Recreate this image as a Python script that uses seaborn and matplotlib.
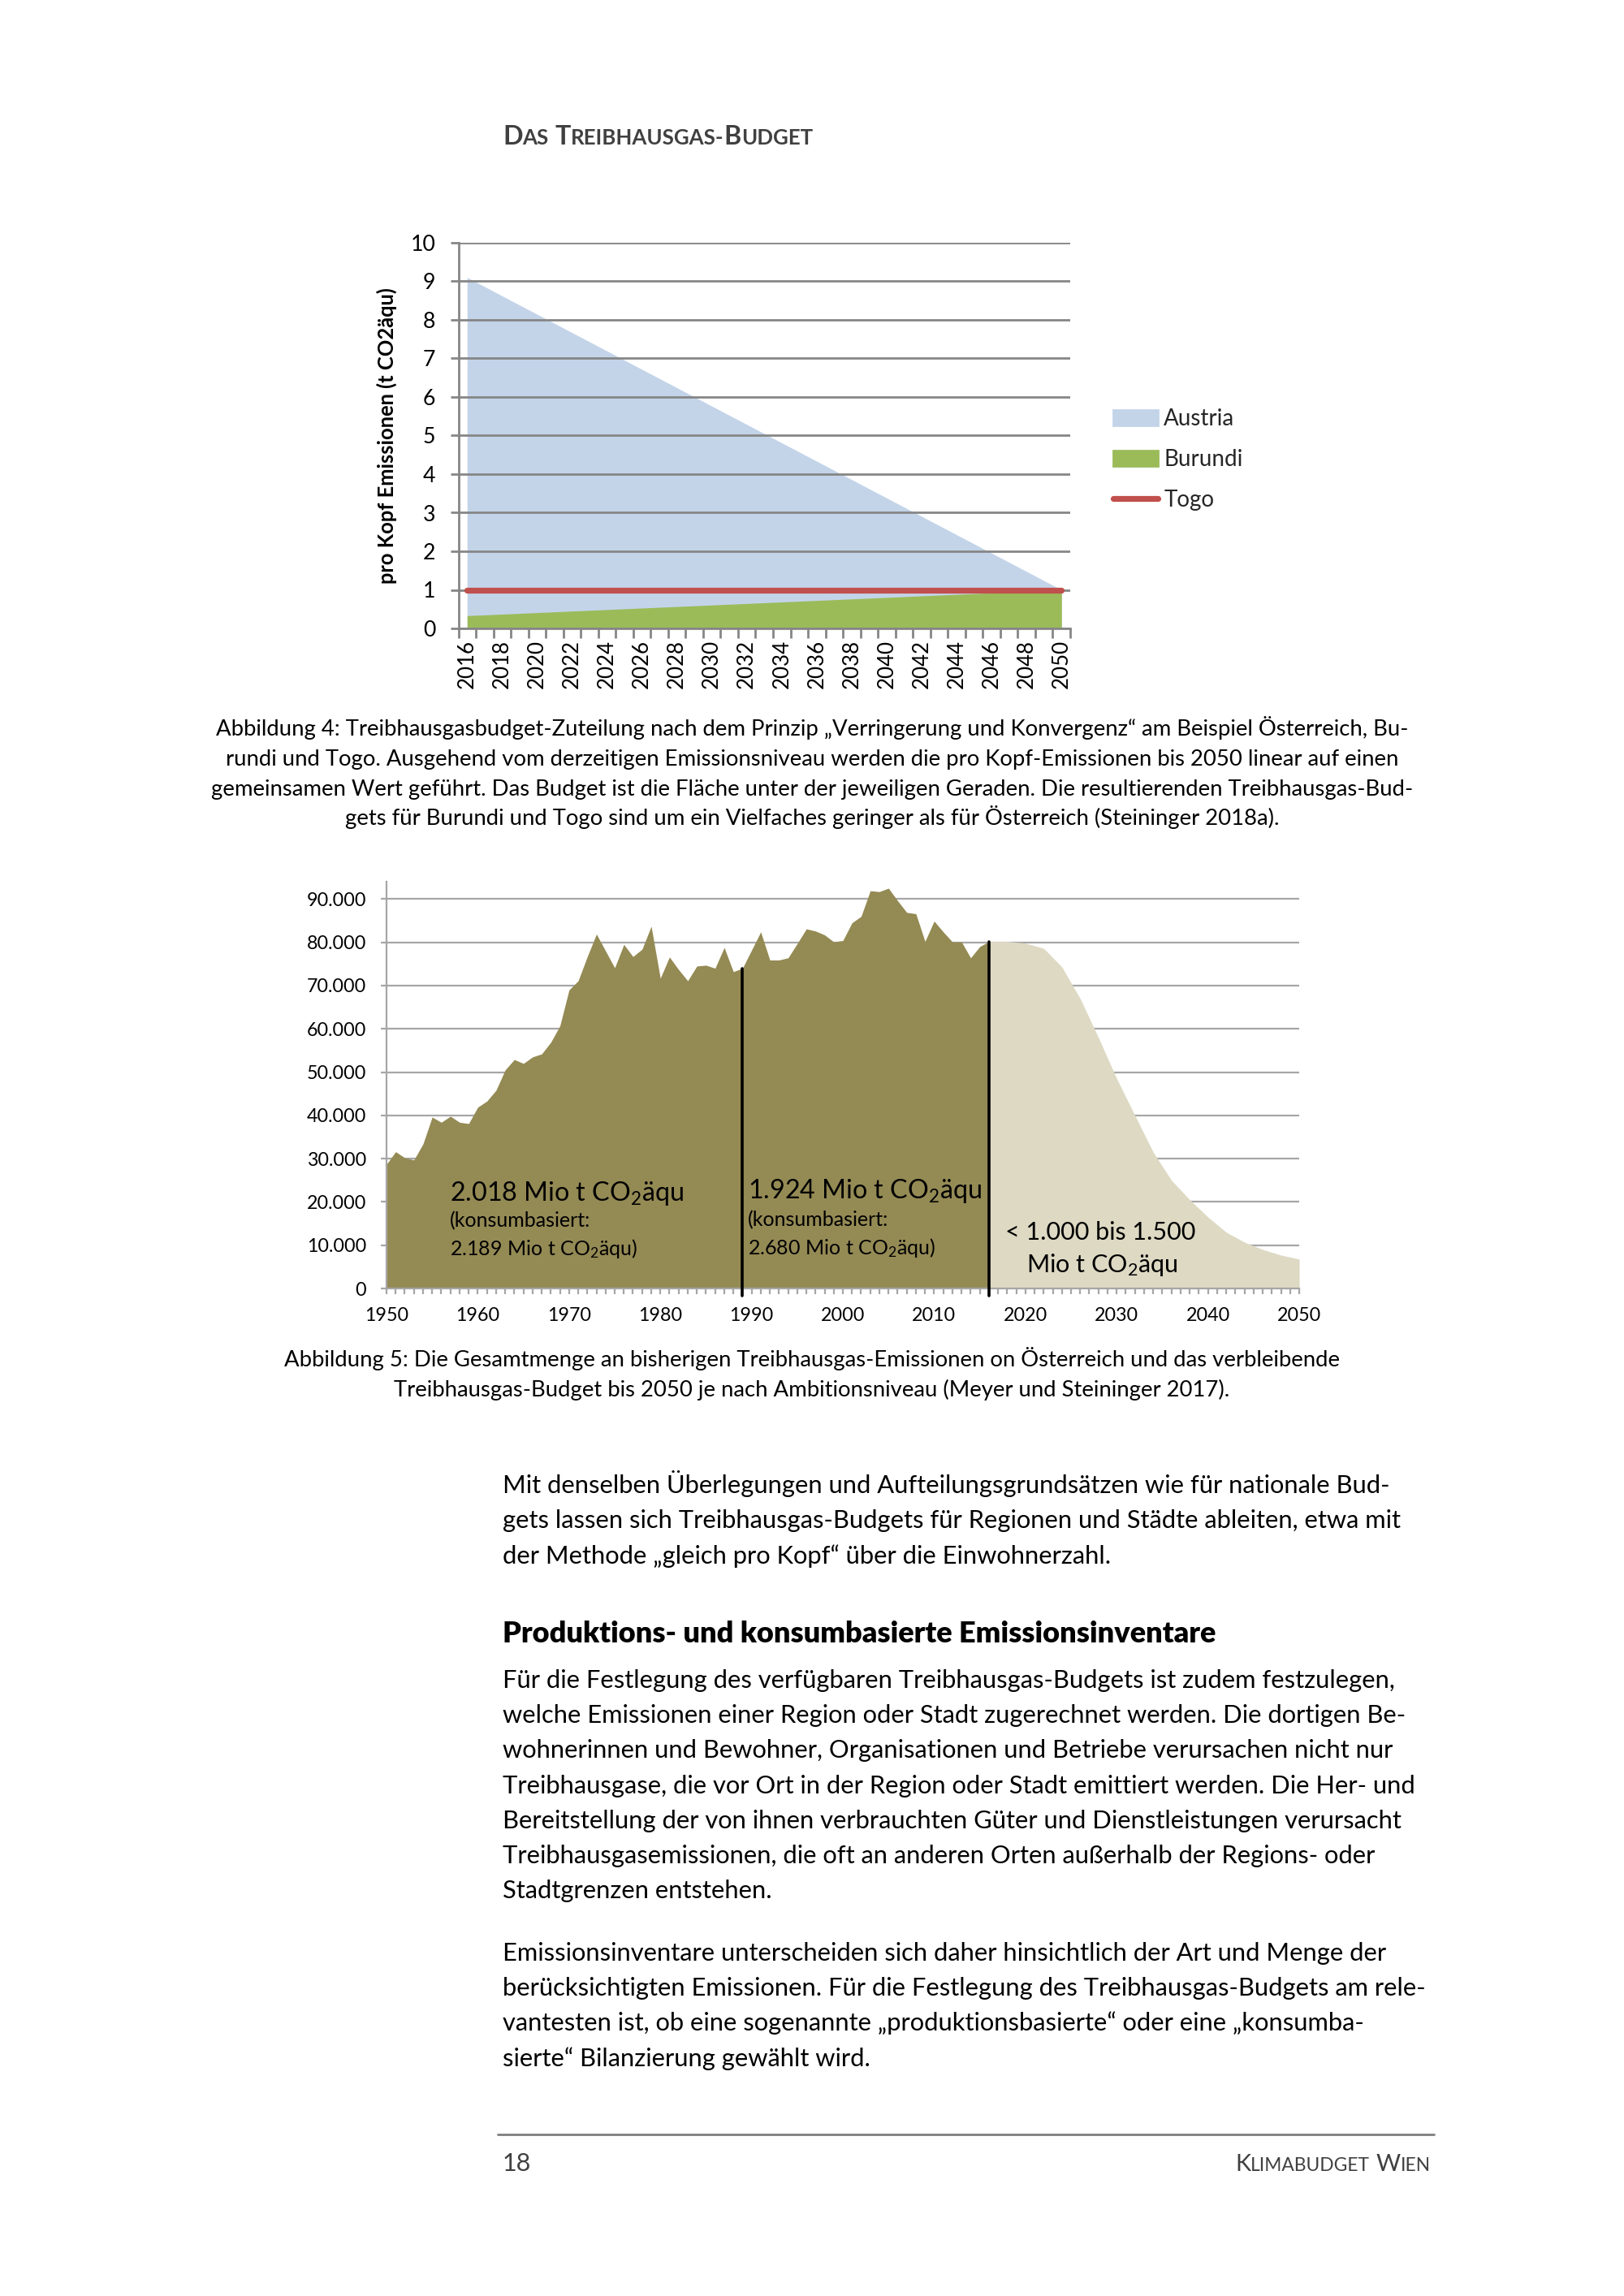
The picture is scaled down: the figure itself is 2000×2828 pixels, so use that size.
import numpy as np
import matplotlib
matplotlib.use("Agg")
import matplotlib.pyplot as plt
import seaborn as sns
from matplotlib.patches import Patch
from matplotlib.lines import Line2D
from matplotlib.ticker import FuncFormatter

# Abbildung 4: per capita emissions (t CO2e), linear paths 2016 -> 2050
path_years = [2016, 2050]
austria = [9.1, 1.0]
burundi = [0.33, 1.0]
togo = [1.0, 1.0]
path_ticks = list(range(2016, 2051, 2))

# Abbildung 5: Austrian emissions (kt CO2e), history and remaining budget path
hist_years = list(range(1950, 2017))
hist_values = [28700, 31600, 30200, 29700, 33400, 39600, 38400, 39800, 38400, 38100,
               41900, 43300, 45800, 50500, 52900, 52000, 53500, 54200, 56900, 60700,
               69000, 71100, 76700, 81900, 78000, 74100, 79500, 76700, 78400, 83700,
               71700, 76600, 73700, 71100, 74500, 74700, 74000, 78800, 73200, 74000,
               78200, 82400, 75900, 75900, 76400, 79700, 83100, 82600, 81700, 80100,
               80400, 84500, 86000, 91900, 91700, 92500, 89600, 86900, 86600, 80200,
               84900, 82400, 80100, 80100, 76400, 79000, 80200]
future_years = list(range(2016, 2051, 2))
future_values = [80200, 80200, 79800, 78600, 74300, 67000, 58000, 48500, 40000, 31500,
                 25000, 20500, 16500, 13000, 10700, 9000, 7700, 6800]
split_years = [1989, 2016]

budget_labels = [
    (1956.9, 22000, "2.018 Mio t CO$_2$äqu", "big"),
    (1956.9, 15600, "(konsumbasiert:", "small"),
    (1956.9, 9100, "2.189 Mio t CO$_2$äqu)", "small"),
    (1989.6, 22600, "1.924 Mio t CO$_2$äqu", "big"),
    (1989.6, 15900, "(konsumbasiert:", "small"),
    (1989.6, 9400, "2.680 Mio t CO$_2$äqu)", "small"),
    (2017.8, 12900, "< 1.000 bis 1.500", "mid"),
    (2020.1, 5400, "Mio t CO$_2$äqu", "mid"),
]

caption4 = [
    "Abbildung 4: Treibhausgasbudget-Zuteilung nach dem Prinzip „Verringerung und Konvergenz“ am Beispiel Österreich, Bu-",
    "rundi und Togo. Ausgehend vom derzeitigen Emissionsniveau werden die pro Kopf-Emissionen bis 2050 linear auf einen",
    "gemeinsamen Wert geführt. Das Budget ist die Fläche unter der jeweiligen Geraden. Die resultierenden Treibhausgas-Bud-",
    "gets für Burundi und Togo sind um ein Vielfaches geringer als für Österreich (Steininger 2018a).",
]
caption5 = [
    "Abbildung 5: Die Gesamtmenge an bisherigen Treibhausgas-Emissionen on Österreich und das verbleibende",
    "Treibhausgas-Budget bis 2050 je nach Ambitionsniveau (Meyer und Steininger 2017).",
]
para1 = [
    "Mit denselben Überlegungen und Aufteilungsgrundsätzen wie für nationale Bud-",
    "gets lassen sich Treibhausgas-Budgets für Regionen und Städte ableiten, etwa mit",
    "der Methode „gleich pro Kopf“ über die Einwohnerzahl.",
]
heading = "Produktions- und konsumbasierte Emissionsinventare"
para2 = [
    "Für die Festlegung des verfügbaren Treibhausgas-Budgets ist zudem festzulegen,",
    "welche Emissionen einer Region oder Stadt zugerechnet werden. Die dortigen Be-",
    "wohnerinnen und Bewohner, Organisationen und Betriebe verursachen nicht nur",
    "Treibhausgase, die vor Ort in der Region oder Stadt emittiert werden. Die Her- und",
    "Bereitstellung der von ihnen verbrauchten Güter und Dienstleistungen verursacht",
    "Treibhausgasemissionen, die oft an anderen Orten außerhalb der Regions- oder",
    "Stadtgrenzen entstehen.",
]
para3 = [
    "Emissionsinventare unterscheiden sich daher hinsichtlich der Art und Menge der",
    "berücksichtigten Emissionen. Für die Festlegung des Treibhausgas-Budgets am rele-",
    "vantesten ist, ob eine sogenannte „produktionsbasierte“ oder eine „konsumba-",
    "sierte“ Bilanzierung gewählt wird.",
]

c_austria = "#C3D4E9"
c_burundi = "#9BBB59"
c_togo = "#C0504D"
c_hist = "#948A54"
c_future = "#DDD9C3"
grey = "#868686"
dark = "#404040"

sns.set_theme(style="white")
plt.rcParams["font.family"] = ["Lato", "DejaVu Sans"]
plt.rcParams["mathtext.default"] = "regular"

W, H = 2000, 2828
fig = plt.figure(figsize=(10, 14.14), dpi=200)
renderer = fig.canvas.get_renderer()


def fx(x):
    return x / W


def fy(y):
    return 1 - y / H


def text_width(s, size, weight="normal"):
    t = fig.text(0, 0, s, fontsize=size, weight=weight)
    w = t.get_window_extent(renderer).width
    t.remove()
    return w


def small_caps(x, y, s, big, small, color, weight="normal", align="left"):
    # fake small caps: capitals at full size, the rest upper-cased and smaller
    words = []
    for word in s.split(" "):
        pieces = []
        for ch in word:
            size = big if ch.isupper() else small
            if pieces and pieces[-1][1] == size:
                pieces[-1][0] += ch.upper()
            else:
                pieces.append([ch.upper(), size])
        words.append(pieces)
    space = text_width("A A", big, weight) - text_width("AA", big, weight)
    total = sum(text_width(p, sz, weight) for w in words for p, sz in w) + space * (len(words) - 1)
    cur = x - total if align == "right" else x
    for w in words:
        for p, sz in w:
            fig.text(fx(cur), fy(y), p, fontsize=sz, weight=weight, color=color, va="baseline")
            cur += text_width(p, sz, weight)
        cur += space


def block(x, y0, lines, size, step, ha="left", **kw):
    for i, line in enumerate(lines):
        fig.text(fx(x), fy(y0 + i * step), line, fontsize=size, ha=ha, va="baseline", **kw)


# page header
small_caps(619, 178, "Das Treibhausgas-Budget", 11.6, 9.3, dark, weight="bold")

# ---- Abbildung 4 ----
ax1 = fig.add_axes([fx(564.5), fy(774), (1318 - 564.5) / W, (774 - 299) / H])
ax1.fill_between(path_years, austria, color=c_austria, lw=0, zorder=1)
ax1.fill_between(path_years, burundi, color=c_burundi, lw=0, zorder=1.5)
sns.lineplot(x=path_years, y=togo, color=c_togo, lw=2.6, ax=ax1, zorder=3,
             solid_capstyle="round")
ax1.set_xlim(2015.5, 2050.5)
ax1.set_ylim(0, 10)
ax1.set_yticks(range(0, 11))
ax1.set_xticks(path_ticks)
ax1.set_xticklabels([str(y) for y in path_ticks], rotation=90)
ax1.set_xticks(np.arange(2015.5, 2051, 1), minor=True)
ax1.yaxis.grid(True, color=grey, lw=1.0)
ax1.set_axisbelow(False)
ax1.tick_params(axis="x", which="major", length=0, pad=5, labelsize=9.3, colors="black")
ax1.tick_params(axis="x", which="minor", length=4.3, width=1.0, color=grey, bottom=True)
ax1.tick_params(axis="y", length=3.6, width=1.0, color=grey, pad=6.5, labelsize=9.6,
                labelcolor="black", left=True)
for side in ["top", "right"]:
    ax1.spines[side].set_visible(False)
for side in ["left", "bottom"]:
    ax1.spines[side].set_color(grey)
    ax1.spines[side].set_linewidth(1.0)
ax1.set_ylabel("pro Kopf Emissionen (t CO2äqu)", fontsize=9.2, weight="bold", color="black")
ax1.yaxis.set_label_coords(-0.1, 0.5)
ax1.set_xlabel("")

handles = [Patch(color=c_austria, label="Austria"),
           Patch(color=c_burundi, label="Burundi"),
           Line2D([], [], color=c_togo, lw=2.6, solid_capstyle="round", label="Togo")]
fig.legend(handles=handles, loc="center left", bbox_to_anchor=(fx(1357), fy(566)),
           frameon=False, fontsize=10, borderpad=0, handlelength=2.0,
           handletextpad=0.25, labelspacing=0.85)

block(1000, 906, caption4, 9.9, 36.8, ha="center", color="black")

# ---- Abbildung 5 ----
ax2 = fig.add_axes([fx(476), fy(1587), (1600 - 476) / W, (1587 - 1086) / H])
ax2.fill_between(hist_years, hist_values, color=c_hist, lw=0, zorder=1)
ax2.fill_between(future_years, future_values, color=c_future, lw=0, zorder=1)
for yr in split_years:
    top = hist_values[hist_years.index(yr)]
    ax2.plot([yr, yr], [-1600, top], color="black", lw=1.3, zorder=3, clip_on=False)
ax2.set_xlim(1950, 2050)
ax2.set_ylim(0, 94000)
ax2.set_xticks(range(1950, 2051, 10))
ax2.set_xticks(range(1950, 2051), minor=True)
ax2.set_yticks(range(0, 90001, 10000))
ax2.yaxis.set_major_formatter(FuncFormatter(lambda v, p: f"{int(v):,}".replace(",", ".")))
ax2.yaxis.grid(True, color="#A6A6A6", lw=0.8)
ax2.set_axisbelow(True)
ax2.tick_params(axis="x", which="both", length=2.5, width=0.8, color="#A6A6A6", bottom=True,
                pad=5.8, labelsize=8.4, labelcolor="black")
ax2.tick_params(axis="y", length=2.7, width=0.8, color="#A6A6A6", left=True, pad=6.3,
                labelsize=8.4, labelcolor="black")
for side in ["top", "right"]:
    ax2.spines[side].set_visible(False)
for side in ["left", "bottom"]:
    ax2.spines[side].set_color("#A6A6A6")
    ax2.spines[side].set_linewidth(0.8)

sizes = {"big": 11.6, "small": 9.0, "mid": 11.0}
for x, y, s, kind in budget_labels:
    ax2.text(x, y, s, fontsize=sizes[kind], va="center", ha="left", color="black", zorder=4)

block(1000, 1683, caption5, 9.9, 36.8, ha="center", color="black")

# ---- body text ----
block(619, 1839, para1, 11.1, 43.3, color="black")
fig.text(fx(619), fy(2023), heading, fontsize=13, weight="heavy", va="baseline", color="black")
block(619, 2079, para2, 11.1, 43.2, color="black")
block(619, 2415, para3, 11.1, 43.2, color="black")

# footer
fig.add_artist(Line2D([fx(613), fx(1766)], [fy(2629), fy(2629)], color="#7F7F7F", lw=1.0))
fig.text(fx(619), fy(2674), "18", fontsize=11, va="baseline", color=dark)
small_caps(1762, 2674, "Klimabudget Wien", 10.5, 8.2, dark, align="right")

fig.savefig("out.png", dpi=200, facecolor="white")
